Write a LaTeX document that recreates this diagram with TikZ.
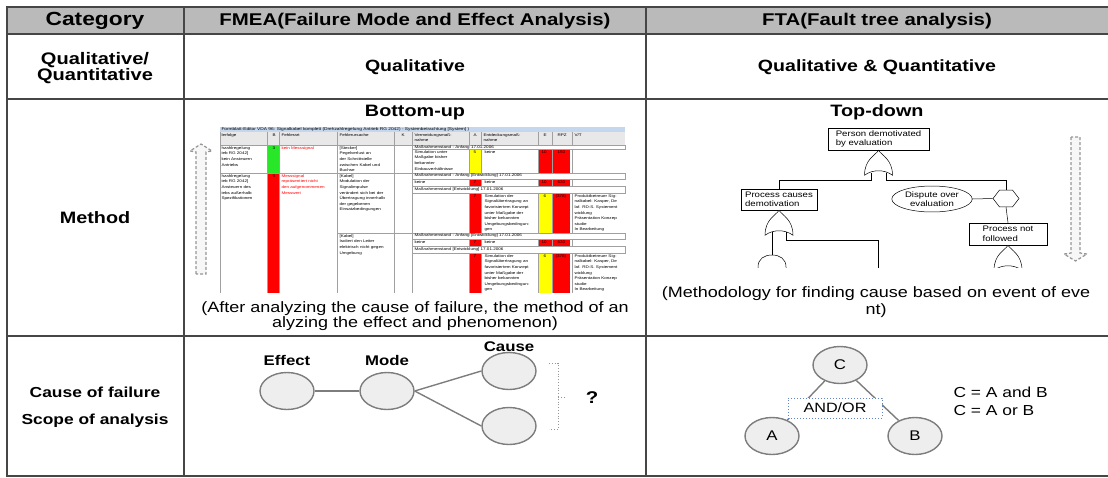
\documentclass[tikz,border=0pt]{standalone}
\usepackage{fontspec}
\setmainfont[FakeStretch=1.2]{Liberation Sans}
\usetikzlibrary{positioning, shapes.geometric}

\definecolor{hdrgray}{RGB}{186,186,186}
\definecolor{ruleline}{RGB}{70,70,70}
\definecolor{bubblefill}{RGB}{238,238,238}
\definecolor{bubbleline}{RGB}{125,125,125}
\definecolor{xlred}{RGB}{255,0,0}
\definecolor{xlyellow}{RGB}{255,255,0}
\definecolor{xlgreen}{RGB}{40,230,40}
\definecolor{xltitle}{RGB}{196,215,238}
\definecolor{xlhead}{RGB}{232,232,232}
\definecolor{xlgrid}{RGB}{160,160,160}
\definecolor{andorblue}{RGB}{100,130,200}
\definecolor{arrowgray}{RGB}{150,150,150}

\begin{document}
\begin{tikzpicture}[
    x=1pt, y=-1pt,
    node distance=100pt,
    on grid,
    tabline/.style={draw=ruleline, line width=1.3pt},
    headtxt/.style={font=\bfseries\fontsize{17}{19}\selectfont},
    cat/.style={font=\bfseries\fontsize{16.5}{16}\selectfont, align=center},
    remark/.style={font=\fontsize{15}{15}\selectfont, align=center},
    bubble/.style={ellipse, draw=bubbleline, fill=bubblefill, line width=1.4pt, minimum width=54pt, minimum height=37pt, font=\fontsize{14}{16}\selectfont},
    link/.style={draw=bubbleline, line width=1.4pt},
    tag/.style={font=\bfseries\fontsize{14}{16}\selectfont},
    evbox/.style={draw, fill=white, line width=0.5pt, font=\fontsize{8}{9.5}\selectfont, align=left, inner sep=1.5pt},
    gate/.style={draw, fill=white, line width=0.5pt},
    ftline/.style={draw, line width=0.5pt},
    fm/.style={font=\fontsize{3.8}{5.6}\selectfont, inner sep=0.3pt, align=left, anchor=north west},
    fmred/.style={fm, text=xlred},
    fmgrid/.style={draw=xlgrid, line width=0.35pt},
    bigarrow/.style={draw=arrowgray, fill=gray!6, dash pattern=on 3pt off 2pt, line width=1.2pt},
    orgate/.pic={\draw[gate] (0,0) .. controls (-3,5) and (-14,9) .. (-14,25)
        .. controls (-6,19) and (6,19) .. (14,25) .. controls (14,9) and (3,5) .. cycle;},
    andgate/.pic={\draw[gate] (-14,30) -- (-14,12) .. controls (-14,4) and (-8,0) .. (0,0)
        .. controls (8,0) and (14,4) .. (14,12) -- (14,30) -- cycle;}
]
   \useasboundingbox (0,0) rectangle (1108,477);

   % Table frame
   \fill[hdrgray] (7,7) rectangle (1108,34);
   \draw[tabline] (1108,7) -- (7,7) -- (7,476) -- (1108,476);
   \foreach \yy in {34,99,336} \draw[tabline] (7,\yy) -- (1108,\yy);
   \foreach \xx in {184,646} \draw[tabline] (\xx,7) -- (\xx,476);

   % Header row
   \node[headtxt, font=\bfseries\fontsize{19}{20}\selectfont] (hcat) at (95,21) {Category};
   \node[headtxt] (hfmea) at (415,21) {FMEA(Failure Mode and Effect Analysis)};
   \node[headtxt] (hfta) at (877,21) {FTA(Fault tree analysis)};

   % Row labels
   \node[cat, font=\bfseries\fontsize{16.7}{16}\selectfont] (rqual) at (95,68) {Qualitative/\\Quantitative};
   \node[cat] (rmethod) at (95,218) {Method};
   \node[tag, font=\bfseries\fontsize{14.5}{16}\selectfont] (rcause) at (95,392) {Cause of failure};
   \node[tag, font=\bfseries\fontsize{14.5}{16}\selectfont] (rscope) at (95,421) {Scope of analysis};

   % Qualitative / quantitative
   \node[cat, font=\bfseries\fontsize{16.3}{16}\selectfont] (qfmea) at (415,67) {Qualitative};
   \node[cat, font=\bfseries\fontsize{16.3}{16}\selectfont] (qfta) at (877,67) {Qualitative \& Quantitative};

   % Method: FMEA
   \node[cat] (bup) at (415,113) {Bottom-up};
   \filldraw[bigarrow] (196,274) -- (196,152) -- (190,151) -- (201,144) -- (212,151) -- (206,152) -- (206,274) -- cycle;

   % form screenshot
   \fill[xltitle] (220,127) rectangle (625,132);
   \fill[xlhead] (220,132) rectangle (625,145);
   \fill[xlgreen] (267,145) rectangle (279,173);
   \fill[xlred] (267,173) rectangle (279,293);
   \fill[xlyellow] (469,149) rectangle (481,173);
   \fill[xlred] (538,149) rectangle (570,173);
   \foreach \ya/\yb in {179/186, 239/246} {
     \fill[xlred] (469,\ya) rectangle (481,\yb);
     \fill[xlred] (538,\ya) rectangle (570,\yb);
   }
   \foreach \ya/\yb in {193/233, 253/293} {
     \fill[xlred] (469,\ya) rectangle (481,\yb);
     \fill[xlyellow] (538,\ya) rectangle (552,\yb);
     \fill[xlred] (552,\ya) rectangle (570,\yb);
   }
   \foreach \xx in {220,267,279,337,394,412,469,481,538,552,572}
     \draw[fmgrid] (\xx,132) -- (\xx,293);
   \draw[fmgrid] (220,145) -- (625,145) (220,173) -- (625,173) (337,233) -- (625,233);
   \foreach \ya/\yb in {145/149, 173/179, 186/193, 233/239, 246/253}
     \filldraw[fmgrid, fill=white] (412,\ya) rectangle (625,\yb);

   \node[fm, font=\fontsize{4}{5}\selectfont] (ftitle) at (221,127.2) {Formblatt-Editor VDA 96: Signalkabel komplett (Drehzahlregelung Antrieb RG 2042) - Systembetrachtung [System] )};
   \node[fm] (fh1) at (221,133) {lerfolge};
   \node[fm] (fh2) at (272,133) {B};
   \node[fm] (fh3) at (281,133) {Fehlerart};
   \node[fm] (fh4) at (339,133) {Fehlerursache};
   \node[fm] (fh5) at (401,133) {K};
   \node[fm] (fh6) at (414,133) {Vermeidungsmaß-\\nahme};
   \node[fm] (fh7) at (473,133) {A};
   \node[fm] (fh8) at (483,133) {Entdeckungsmaß-\\nahme};
   \node[fm] (fh9) at (543,133) {E};
   \node[fm] (fh10) at (557,133) {RPZ};
   \node[fm] (fh11) at (574,133) {V/T};

   \node[fm] (fa1) at (221,146) {hzahlregelung\\ieb RG 2042]\\kein Ansteuern\\Antriebs};
   \node[fm] (fa2) at (272,146) {3};
   \node[fmred] (fa3) at (281,146) {kein Messsignal};
   \node[fm] (fa4) at (339,146) {[Stecker]\\Pegelverlust an\\der Schnittstelle\\zwischen Kabel und\\Buchse};
   \node[fm] (fa5) at (414,145.2) {Maßnahmenstand - Anfang 17.01.2006};
   \node[fm] (fa6) at (414,150) {Simulation unter\\Maßgabe bisher\\bekannter\\Einbauverhältnisse};
   \node[fm] (fa7) at (473,150) {5};
   \node[fm] (fa8) at (484,150) {keine};
   \node[fm] (fa9) at (541,150) {10};
   \node[fm] (fa10) at (557,150) {150};

   \node[fm] (fb1) at (221,174) {hzahlregelung\\ieb RG 2042]\\Ansteuern des\\iebs außerhalb\\Spezifikationen};
   \node[fm] (fb2) at (272,174) {9};
   \node[fmred] (fb3) at (281,174) {Messsignal\\repräsentiert nicht\\den aufgenommenen\\Messwert};
   \node[fm] (fb4) at (339,174) {[Kabel]\\Modulation der\\Signalimpulse\\verändert sich bei der\\Übertragung innerhalb\\der gegebenen\\Einsatzbedingungen};
   \node[fm] (fb5) at (414,173.4) {Maßnahmenstand - Anfang [Entwicklung]  17.01.2006};
   \node[fm] (fb6) at (414,180) {keine};
   \node[fm] (fb7) at (473,180) {7};
   \node[fm] (fb8) at (484,180) {keine};
   \node[fm] (fb9) at (541,180) {10};
   \node[fm] (fb10) at (557,180) {630};
   \node[fm] (fb11) at (414,186.8) {Maßnahmenstand [Entwicklung]  17.01.2006};
   \node[fm] (fb12) at (473,194) {7};
   \node[fm] (fb13) at (484,194) {Simulation der\\Signalübertragung an\\favorisiertem Konzept\\unter Maßgabe der\\bisher bekannten\\Umgebungsbedingun-\\gen};
   \node[fm] (fb14) at (543,194) {6};
   \node[fm] (fb15) at (555,194) {(378)};
   \node[fm] (fb16) at (574,194) {Produktbetreuer Sig-\\nalkabel: Kasper, De\\laf. RD-S. Systement\\wicklung\\Präsentation Konzep\\studie\\In Bearbeitung};

   \node[fm] (fc1) at (339,234) {[Kabel]\\Isoliert den Leiter\\elektrisch nicht gegen\\Umgebung};
   \node[fm] (fc2) at (414,233.4) {Maßnahmenstand - Anfang [Entwicklung]  17.01.2006};
   \node[fm] (fc3) at (414,240) {keine};
   \node[fm] (fc4) at (473,240) {7};
   \node[fm] (fc5) at (484,240) {keine};
   \node[fm] (fc6) at (541,240) {10};
   \node[fm] (fc7) at (557,240) {630};
   \node[fm] (fc8) at (414,246.8) {Maßnahmenstand [Entwicklung]  17.01.2006};
   \node[fm] (fc9) at (473,254) {7};
   \node[fm] (fc10) at (484,254) {Simulation der\\Signalübertragung an\\favorisiertem Konzept\\unter Maßgabe der\\bisher bekannten\\Umgebungsbedingun-\\gen};
   \node[fm] (fc11) at (543,254) {6};
   \node[fm] (fc12) at (555,254) {(378)};
   \node[fm] (fc13) at (574,254) {Produktbetreuer Sig-\\nalkabel: Kasper, De\\laf. RD-S. Systement\\wicklung\\Präsentation Konzep\\studie\\In Bearbeitung};

   \node[remark] (fmeanote) at (415,316) {(After analyzing the cause of failure, the method of an\\alyzing the effect and phenomenon)};

   % Method: FTA
   \node[cat] (tdown) at (877,112) {Top-down};
   \filldraw[bigarrow] (1071,137) -- (1071,253) -- (1064,254) -- (1075.5,261) -- (1087,254) -- (1080,253) -- (1080,137) -- cycle;

   \node[evbox, minimum width=101pt, minimum height=22pt] (pde) at (878.5,139) {Person demotivated\\by evaluation};
   \node[evbox, minimum width=76pt, minimum height=21pt] (pcd) at (779,199.5) {Process causes\\demotivation};
   \node[evbox, ellipse, minimum width=80pt, minimum height=24pt, align=center] (dispute) at (932,199) {Dispute over\\evaluation};
   \node[gate, regular polygon, regular polygon sides=6, minimum size=26pt, inner sep=0pt, yscale=0.75, transform shape] (hex) at (1006,198.5) {};
   \node[evbox, minimum width=78pt, minimum height=22pt] (pnf) at (1008,234) {Process not\\followed};

   \pic at (pde.south) {orgate};
   \coordinate (g1l) at (871,173);
   \coordinate (g1r) at (886,173);
   \draw[ftline] (g1l) -- ++(0,7) -| (pcd.north);
   \draw[ftline] (g1r) -- ++(0,7) -| (hex.north);
   \draw[ftline] (dispute.east) -- (hex.west);
   \draw[ftline] (hex.south) -- (pnf.north);
   \pic at (pcd.south) {orgate};

   \begin{scope}
     \clip (720,200) rectangle (1060,267);
     \coordinate (g2l) at (772,232);
     \coordinate (g2r) at (786,232);
     \coordinate (andg) at (772,255);
     \coordinate (cutend) at (878,270);
     \draw[ftline] (g2l) -- (andg);
     \draw[ftline] (g2r) -- ++(0,8) -| (cutend);
     \pic at (andg) {andgate};
     \pic at (pnf.south) {orgate};
   \end{scope}

   \node[remark, font=\fontsize{15}{17}\selectfont] (ftanote) at (876,302) {(Methodology for finding cause based on event of eve\\nt)};

   % Scope: FMEA
   \node[bubble] (effect) at (287,391) {};
   \node[bubble] (mode) [right=100pt of effect] {};
   \node[bubble] (cause1) [above right=20pt and 122pt of mode] {};
   \node[bubble] (cause2) [below=55pt of cause1] {};
   \node[tag] (effectlbl) [above=31pt of effect] {Effect};
   \node[tag] (modelbl) [above=31pt of mode] {Mode};
   \node[tag] (causelbl) [above=24pt of cause1] {Cause};
   \draw[link] (effect) -- (mode);
   \draw[link] (mode.east) -- (cause1.west);
   \draw[link] (mode.east) -- (cause2.west);
   \draw[draw=arrowgray, dotted, line width=0.8pt] (549,363) -- (558,363) -- (558,429) -- (549,429);
   \draw[draw=arrowgray, dotted, line width=0.8pt] (558,397) -- (565,397);
   \node[tag, font=\bfseries\fontsize{17}{18}\selectfont] (qmark) at (592,398) {?};

   % Scope: FTA
   \node[bubble] (C) at (840,365) {C};
   \node[bubble] (A) [below left=71pt and 68pt of C] {A};
   \node[bubble] (B) [below right=71pt and 75pt of C] {B};
   \draw[link] (C) -- (A);
   \draw[link] (C) -- (B);
   \node[draw=andorblue, dotted, line width=1pt, fill=white, minimum width=94pt, minimum height=20pt, font=\fontsize{13.5}{15}\selectfont] (andor) at (835,408) {AND/OR};
   \node[anchor=west, align=left, font=\fontsize{14.5}{18}\selectfont] (eqn) at (950,401) {C = A and B\\C = A or B};

\end{tikzpicture}
\end{document}
